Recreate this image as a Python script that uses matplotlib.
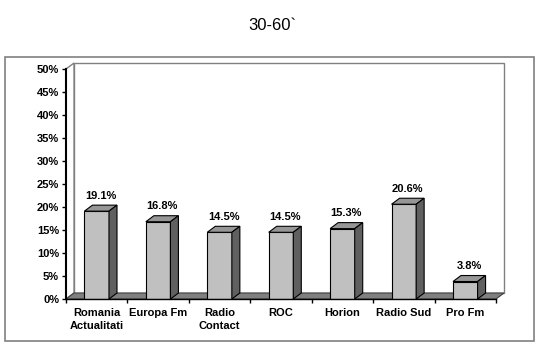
import matplotlib
matplotlib.use('Agg')
from matplotlib import pyplot as plt
from matplotlib.patches import Polygon, Rectangle
import numpy as np

plt.rcParams['font.family'] = ['Liberation Sans', 'DejaVu Sans']

stations = ['Romania\nActualitati', 'Europa Fm', 'Radio\nContact', 'ROC',
            'Horion', 'Radio Sud', 'Pro Fm']
shares = [19.1, 16.8, 14.5, 14.5, 15.3, 20.6, 3.8]
y_ticks = [0, 5, 10, 15, 20, 25, 30, 35, 40, 45, 50]

W, H = 544, 357
fig = plt.figure(figsize=(W / 100, H / 100), dpi=100)
fig.patch.set_facecolor('white')

# chart area frame
fig.patches.append(Rectangle((5 / W, (H - 341) / H), 529 / W, 284 / H,
                             transform=fig.transFigure, fill=False,
                             edgecolor='#808080', linewidth=1.2))
fig.text(272 / W, 1 - 26 / H, '30-60`', ha='center', va='center', fontsize=12)

ax = fig.add_axes([66 / W, (H - 299) / H, 430 / W, 230 / H])
n = len(stations)
ax.set_xlim(-0.5, n - 0.5)
ax.set_ylim(0, 50)
ax.set_facecolor('none')

# depth offset in data units (about 8 px right, 6 px up)
dx = 8 / 430 * n
dy = 6 / 230 * 50

x0, x1 = -0.5, n - 0.5
# back wall, side wall, floor
ax.add_patch(Polygon([(x0 + dx, dy), (x1 + dx, dy), (x1 + dx, 50 + dy), (x0 + dx, 50 + dy)],
                     closed=True, facecolor='white', edgecolor='#808080', lw=1,
                     clip_on=False, zorder=0))
ax.add_patch(Polygon([(x0, 0), (x0 + dx, dy), (x0 + dx, 50 + dy), (x0, 50)],
                     closed=True, facecolor='white', edgecolor='#808080', lw=1,
                     clip_on=False, zorder=0))
ax.add_patch(Polygon([(x0, 0), (x1, 0), (x1 + dx, dy), (x0 + dx, dy)],
                     closed=True, facecolor='#808080', edgecolor='#404040', lw=0.8,
                     clip_on=False, zorder=1))

x = np.arange(n)
bw = 0.4
ax.bar(x, shares, bw, color='#C0C0C0', edgecolor='black', linewidth=0.8, zorder=3)
for xi, v in zip(x, shares):
    l, r = xi - bw / 2, xi + bw / 2
    ax.add_patch(Polygon([(l, v), (r, v), (r + dx, v + dy), (l + dx, v + dy)],
                         closed=True, facecolor='#969696', edgecolor='black',
                         lw=0.8, clip_on=False, zorder=3))
    ax.add_patch(Polygon([(r, 0), (r + dx, dy), (r + dx, v + dy), (r, v)],
                         closed=True, facecolor='#606060', edgecolor='black',
                         lw=0.8, clip_on=False, zorder=3))
    ax.text(xi + dx / 2, v + dy + 1.0, '{:.1f}%'.format(v), ha='center', va='bottom',
            fontsize=8, fontweight='bold', zorder=4)

for s in ['top', 'right']:
    ax.spines[s].set_visible(False)
ax.spines['left'].set_linewidth(1.5)
ax.spines['bottom'].set_linewidth(1)
ax.spines['left'].set_zorder(5)
ax.spines['bottom'].set_zorder(5)

ax.set_yticks(y_ticks)
ax.set_yticklabels(['{}%'.format(t) for t in y_ticks], fontsize=8, fontweight='bold')
ax.tick_params(axis='y', direction='out', length=3, width=1, pad=2)

ax.set_xticks(np.arange(n + 1) - 0.5)
ax.set_xticklabels([])
ax.tick_params(axis='x', which='major', direction='out', length=3, width=1)
ax.set_xticks(x, minor=True)
ax.set_xticklabels(stations, minor=True, fontsize=8, fontweight='bold',
                   linespacing=1.4)
ax.tick_params(axis='x', which='minor', length=0, pad=6.5)

fig.savefig('out.png', dpi=100)
